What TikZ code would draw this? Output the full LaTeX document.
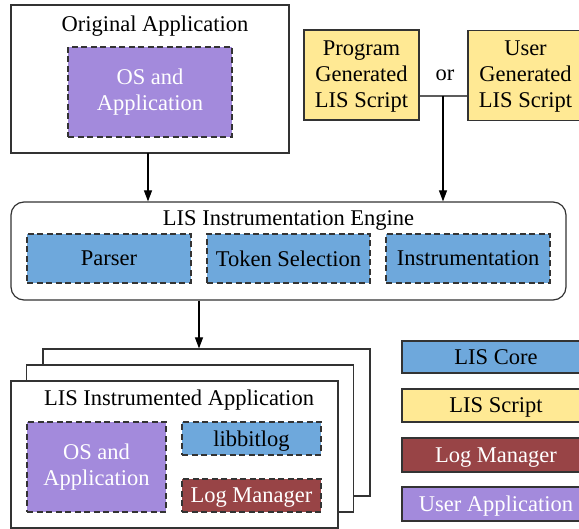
\documentclass[tikz,border=0pt]{standalone}
\usepackage{fontspec}
\setmainfont{Liberation Serif}
\usetikzlibrary{arrows.meta}
\definecolor{cpurple}{HTML}{A38ADC}
\definecolor{cblue}{HTML}{6EA8DC}
\definecolor{cyellow}{HTML}{FFE994}
\definecolor{cred}{HTML}{984446}
\definecolor{cedge}{HTML}{333333}
\tikzset{
  x=1pt, y=-1pt,
  txt/.style={font=\fontsize{22.5}{26}\selectfont, align=center, inner sep=0pt},
  frame/.style={draw=cedge, line width=1.2pt, fill=white, inner sep=0pt},
  part/.style={draw=cedge, line width=1.2pt, dash pattern=on 6pt off 3.5pt, inner sep=0pt,
    font=\fontsize{22.5}{26}\selectfont, align=center},
  solidpart/.style={draw=cedge, line width=1.2pt, inner sep=0pt,
    font=\fontsize{22.5}{26}\selectfont, align=center},
  oneline/.style={text depth=0pt},
  arr/.style={line width=1.1pt, -{Triangle[length=11pt,width=8pt]}},
}
\begin{document}
\begin{tikzpicture}
\useasboundingbox (0,0) rectangle (579,529);
\clip (0,0) rectangle (579,529);
% Original application
\node[frame, minimum width=278pt, minimum height=148pt] (orig) at (150,79) {};
\node[txt] (origt) at (155,26) {Original Application};
\node[part, fill=cpurple, text=white, minimum width=164pt, minimum height=90pt] (osapp1) at (150,92) {OS and\\Application};
% Scripts
\node[solidpart, fill=cyellow, minimum width=115pt, minimum height=90pt] (prog) at (361.5,75) {\rule{0pt}{17pt}Program\\Generated\\LIS Script};
\node[solidpart, fill=cyellow, minimum width=115pt, minimum height=90pt] (user) at (525.5,75.5) {\rule{0pt}{17pt}User\\Generated\\LIS Script};
\node[txt] (or) at (445,75.5) {or};
\coordinate (j) at (443,96);
\draw[draw=cedge!80, line width=1.1pt] (prog.east |- j) -- (user.west |- j);
% Engine
\node[frame, rounded corners=13pt, minimum width=555pt, minimum height=98pt] (engine) at (288.5,251) {};
\node[txt] (enginet) at (288.5,220.5) {LIS Instrumentation Engine};
\node[part, oneline, fill=cblue, minimum width=164pt, minimum height=49pt] (parser) at (109,258.5) {Parser};
\node[part, oneline, fill=cblue, minimum width=163pt, minimum height=49pt] (token) at (288.5,258.5) {Token Selection};
\node[part, oneline, fill=cblue, minimum width=164pt, minimum height=49pt] (instr) at (468,258.5) {Instrumentation};
% arrows into engine
\draw[arr] (148,153) coordinate (a1) -- (a1 |- engine.north);
\draw[arr] (j) -- (j |- engine.north);
% Stack of instrumented apps
\node[frame, minimum width=327pt, minimum height=147pt] (back) at (206.5,422.5) {};
\node[frame, minimum width=327pt, minimum height=147pt] (mid) at (190,438.5) {};
\node[frame, minimum width=327pt, minimum height=147pt] (front) at (174.5,454.5) {};
\coordinate (a3) at (199,0);
\draw[arr] (a3 |- engine.south) -- (a3 |- back.north);
\node[txt] (frontt) at (179,400.5) {LIS Instrumented Application};
\node[part, fill=cpurple, text=white, minimum width=139pt, minimum height=90pt] (osapp2) at (96.5,467) {OS and\\Application};
\node[part, oneline, fill=cblue, minimum width=139pt, minimum height=33pt] (libbit) at (251.5,438.5) {libbitlog};
\node[part, oneline, fill=cred, text=white, minimum width=139pt, minimum height=33pt] (logm) at (251.5,495.5) {Log Manager};
% Legend
\node[solidpart, oneline, fill=cblue, minimum width=188pt, minimum height=32pt] (lcore) at (496,357) {LIS Core};
\node[solidpart, oneline, fill=cyellow, minimum width=188pt, minimum height=33pt] (lscript) at (496,405.5) {LIS Script};
\node[solidpart, oneline, fill=cred, text=white, minimum width=188pt, minimum height=34pt] (llog) at (496,455) {Log Manager};
\node[solidpart, oneline, fill=cpurple, text=white, minimum width=188pt, minimum height=34pt] (luser) at (496,504) {User Application};
\end{tikzpicture}
\end{document}
